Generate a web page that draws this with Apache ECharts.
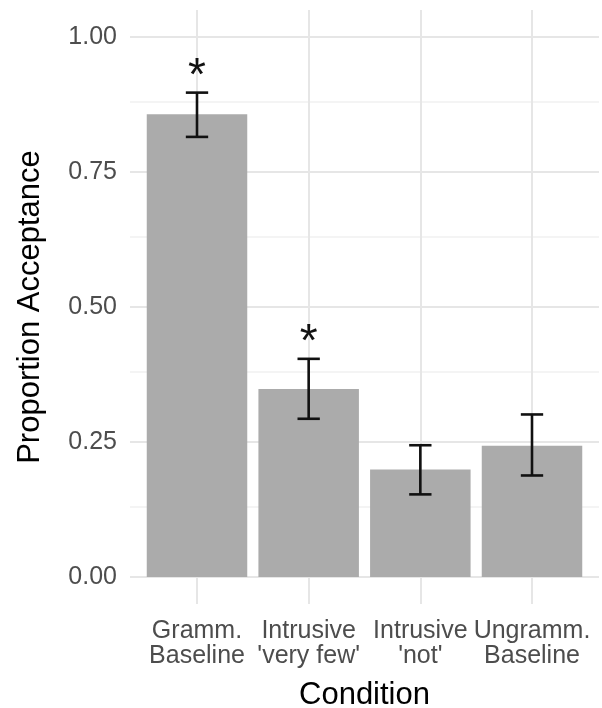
<!DOCTYPE html>
<html>
<head>
<meta charset="utf-8">
<title>Proportion Acceptance by Condition</title>
<script src="https://cdn.jsdelivr.net/npm/echarts@6/dist/echarts.min.js"></script>
<style>
  html, body { margin: 0; padding: 0; background: #ffffff; }
  #chart { width: 602px; height: 708px; }
</style>
</head>
<body>
<div id="chart"></div>
<script>
// Condition labels (two lines each)
const categories = ["Gramm.\nBaseline", "Intrusive\n'very few'", "Intrusive\n'not'", "Ungramm.\nBaseline"];
// Mean proportion of acceptance per condition
const proportions = [0.857, 0.348, 0.199, 0.243];
// Error bar limits
const lowerBounds = [0.815, 0.293, 0.153, 0.188];
const upperBounds = [0.897, 0.404, 0.244, 0.301];
// Significance markers above the error bars
const markers = ["*", "*", "", ""];
// Y tick labels and gridline positions
const yTicks = [0, 0.25, 0.5, 0.75, 1];
const yMinor = [0.125, 0.375, 0.625, 0.875];

const FONT = '"Liberation Sans", Arial, Helvetica, sans-serif';
const xPositions = categories.map((_, i) => i);
const rows = categories.map((_, i) => [i, proportions[i], lowerBounds[i], upperBounds[i]]);
const markerRows = categories.map((_, i) => [i, upperBounds[i]]);

const gridLines = []
  .concat(yMinor.map(v => ({ yAxis: v, lineStyle: { color: '#f0f0f0', width: 1.5, type: 'solid' } })))
  .concat(yTicks.map(v => ({ yAxis: v, lineStyle: { color: '#e6e6e6', width: 2, type: 'solid' } })))
  .concat(xPositions.map(v => ({ xAxis: v, lineStyle: { color: '#e6e6e6', width: 2, type: 'solid' } })));

const chart = echarts.init(document.getElementById('chart'), null, { renderer: 'canvas' });

chart.setOption({
  animation: false,
  backgroundColor: '#ffffff',
  textStyle: { fontFamily: FONT },
  grid: { left: 130, right: 3, top: 10, bottom: 104, containLabel: false, outerBoundsMode: 'none' },
  xAxis: {
    type: 'value',
    min: -0.6,
    max: 3.6,
    axisLine: { show: false },
    axisTick: { show: false },
    splitLine: { show: false },
    axisLabel: {
      customValues: xPositions,
      formatter: v => categories[Math.round(v)] || '',
      fontSize: 25,
      lineHeight: 25,
      color: '#4d4d4d',
      margin: 15,
      fontFamily: FONT
    },
    name: 'Condition',
    nameLocation: 'middle',
    nameGap: 76,
    nameTextStyle: { fontSize: 31, color: '#000000', fontFamily: FONT }
  },
  yAxis: {
    type: 'value',
    min: -0.05,
    max: 1.05,
    axisLine: { show: false },
    axisTick: { show: false },
    splitLine: { show: false },
    axisLabel: {
      customValues: yTicks,
      formatter: v => v.toFixed(2),
      fontSize: 25,
      color: '#4d4d4d',
      margin: 13,
      fontFamily: FONT
    },
    name: 'Proportion Acceptance',
    nameLocation: 'middle',
    nameGap: 84,
    nameTextStyle: { fontSize: 31, color: '#000000', fontFamily: FONT }
  },
  series: [
    {
      // panel gridlines
      type: 'line',
      data: [],
      z: 0,
      silent: true,
      markLine: {
        z: 0,
        silent: true,
        symbol: ['none', 'none'],
        label: { show: false },
        emphasis: { disabled: true },
        animation: false,
        data: gridLines
      }
    },
    {
      // bars
      type: 'custom',
      z: 2,
      silent: true,
      data: rows,
      encode: { x: 0, y: 1 },
      renderItem: function (params, api) {
        const x = api.value(0);
        const v = api.value(1);
        const p0 = api.coord([x - 0.45, v]);
        const p1 = api.coord([x + 0.45, 0]);
        return {
          type: 'rect',
          shape: { x: p0[0], y: p0[1], width: p1[0] - p0[0], height: p1[1] - p0[1] },
          style: { fill: '#ababab' }
        };
      }
    },
    {
      // error bars
      type: 'custom',
      z: 3,
      silent: true,
      data: rows,
      encode: { x: 0, y: [2, 3] },
      renderItem: function (params, api) {
        const x = api.value(0);
        const lo = api.coord([x, api.value(2)]);
        const hi = api.coord([x, api.value(3)]);
        const half = api.size([0.1, 0])[0];
        const style = { stroke: '#111111', lineWidth: 2.6, fill: null };
        return {
          type: 'group',
          children: [
            { type: 'line', shape: { x1: hi[0], y1: hi[1], x2: lo[0], y2: lo[1] }, style: style },
            { type: 'line', shape: { x1: hi[0] - half, y1: hi[1], x2: hi[0] + half, y2: hi[1] }, style: style },
            { type: 'line', shape: { x1: lo[0] - half, y1: lo[1], x2: lo[0] + half, y2: lo[1] }, style: style }
          ]
        };
      }
    },
    {
      // significance markers
      type: 'custom',
      z: 4,
      silent: true,
      data: markerRows,
      encode: { x: 0, y: 1 },
      renderItem: function (params, api) {
        const i = params.dataIndex;
        const p = api.coord([api.value(0), api.value(1) + 0.029]);
        return {
          type: 'text',
          x: p[0],
          y: p[1],
          style: {
            text: markers[i],
            fontSize: 46,
            fontFamily: FONT,
            fill: '#111111',
            align: 'center',
            verticalAlign: 'middle'
          }
        };
      }
    }
  ]
});
</script>
</body>
</html>
